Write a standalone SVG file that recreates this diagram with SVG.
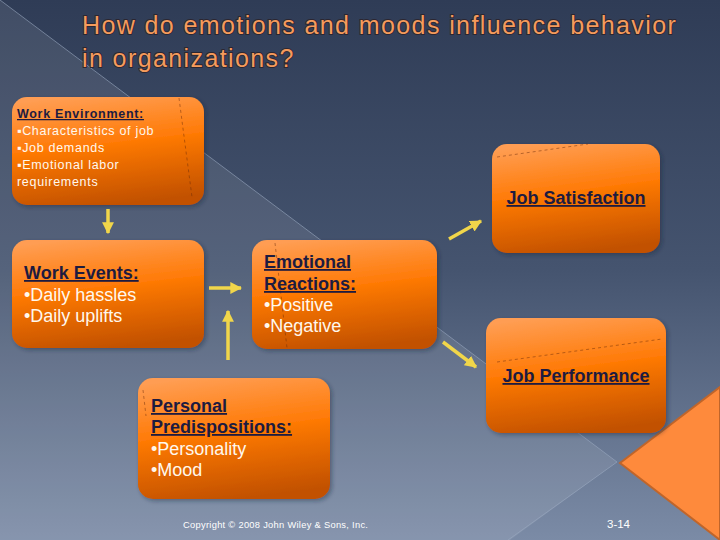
<svg xmlns="http://www.w3.org/2000/svg" width="720" height="540" viewBox="0 0 720 540">
<defs>
<linearGradient id="bg" x1="0" y1="0" x2="0" y2="1">
<stop offset="0" stop-color="#2f3c56"/>
<stop offset="0.5" stop-color="#45546f"/>
<stop offset="1" stop-color="#7b8ba6"/>
</linearGradient>
<linearGradient id="box" x1="0.3" y1="0" x2="0.5" y2="1">
<stop offset="0" stop-color="#ff9d52"/>
<stop offset="0.45" stop-color="#ff7a06"/>
<stop offset="1" stop-color="#c25100"/>
</linearGradient>
<filter id="sh" x="-10%" y="-10%" width="130%" height="130%">
<feDropShadow dx="2" dy="2" stdDeviation="2" flood-color="#1a2235" flood-opacity="0.4"/>
</filter>
<marker id="ah" viewBox="0 0 10 10" refX="9" refY="5" markerWidth="3.4" markerHeight="3.4" orient="auto" markerUnits="strokeWidth">
<path d="M0,0 L10,5 L0,10 z" fill="#f1d64a"/>
</marker>
<style>
.bx{fill:url(#box);filter:url(#sh)}
.hd{font-family:"Liberation Sans",Arial,sans-serif;font-weight:bold;fill:#1d1b40;text-decoration:underline}
.tx{font-family:"Liberation Sans",Arial,sans-serif;fill:#fff8ee}
.big{font-size:18px}
.sm{font-size:12.5px;letter-spacing:0.7px}
.ar{stroke:#f1d64a;stroke-width:3.5;fill:none;marker-end:url(#ah)}
.dl{stroke:#6a2a08;stroke-width:0.8;fill:none;stroke-dasharray:3 3;opacity:0.6}
</style>
</defs>
<rect width="720" height="540" fill="url(#bg)"/>
<polygon points="0,0 617,462 510,540 0,540" fill="#ffffff" opacity="0.09"/>
<polyline points="0,0 617,462 508,540" fill="none" stroke="#9aa8c0" stroke-width="1" opacity="0.6"/>
<polygon points="620,463 720,387 720,540" fill="#fe8a3c" stroke="#c0652a" stroke-width="2"/>
<g id="title" font-family="'Liberation Sans',Arial,sans-serif" font-size="25" letter-spacing="1.4" fill="#f59b5c" stroke="#2c2630" stroke-width="1.8" paint-order="stroke">
<text x="82" y="34">How do emotions and moods influence behavior</text>
<text x="82" y="67">in organizations?</text>
</g>
<g id="work-environment">
<rect class="bx" x="12" y="97" width="192" height="108" rx="15"/>
<line class="dl" x1="179" y1="98" x2="192" y2="197"/>
<text class="hd sm" x="17" y="118">Work Environment:</text>
<text class="tx sm" x="17" y="135">▪Characteristics of job</text>
<text class="tx sm" x="17" y="152">▪Job demands</text>
<text class="tx sm" x="17" y="169">▪Emotional labor</text>
<text class="tx sm" x="17" y="186">requirements</text>
</g>
<g id="job-satisfaction">
<rect class="bx" x="492" y="144" width="168" height="109" rx="15"/>
<line class="dl" x1="497" y1="157" x2="588" y2="144" stroke-dasharray="1 6" opacity="0.45"/>
<text class="hd big" x="576" y="204" text-anchor="middle">Job Satisfaction</text>
</g>
<g id="work-events">
<rect class="bx" x="12" y="240" width="192" height="108" rx="15"/>
<text class="hd big" x="24" y="279">Work Events:</text>
<text class="tx big" x="24" y="301">•Daily hassles</text>
<text class="tx big" x="24" y="322">•Daily uplifts</text>
</g>
<g id="emotional-reactions">
<rect class="bx" x="252" y="240" width="185" height="109" rx="15"/>
<line class="dl" x1="275" y1="243" x2="287" y2="348" opacity="0.3"/>
<text class="hd big" x="264" y="268">Emotional</text>
<text class="hd big" x="264" y="290">Reactions:</text>
<text class="tx big" x="264" y="311">•Positive</text>
<text class="tx big" x="264" y="332">•Negative</text>
</g>
<g id="job-performance">
<rect class="bx" x="486" y="318" width="180" height="115" rx="15"/>
<line class="dl" x1="497" y1="362" x2="662" y2="339" stroke-dasharray="1 12" opacity="0.45"/>
<text class="hd big" x="576" y="382" text-anchor="middle">Job Performance</text>
</g>
<g id="personal-predispositions">
<rect class="bx" x="138" y="378" width="192" height="121" rx="15"/>
<line class="dl" x1="143" y1="390" x2="146" y2="416"/>
<text class="hd big" x="151" y="412">Personal</text>
<text class="hd big" x="151" y="433">Predispositions:</text>
<text class="tx big" x="151" y="455">•Personality</text>
<text class="tx big" x="151" y="476">•Mood</text>
</g>
<g id="connectors">
<line class="ar" x1="108" y1="209" x2="108" y2="233"/>
<line class="ar" x1="209" y1="288" x2="241" y2="288"/>
<line class="ar" x1="228" y1="360" x2="228" y2="311"/>
<line class="ar" x1="449" y1="239" x2="481" y2="221"/>
<line class="ar" x1="443" y1="342" x2="476" y2="367"/>
</g>
<g id="footer" font-family="'Liberation Sans',Arial,sans-serif" fill="#ffffff">
<text x="183" y="528" font-size="9.3" letter-spacing="0.3">Copyright © 2008 John Wiley &amp; Sons, Inc.</text>
<text x="607" y="528" font-size="11.5">3-14</text>
</g>
</svg>
